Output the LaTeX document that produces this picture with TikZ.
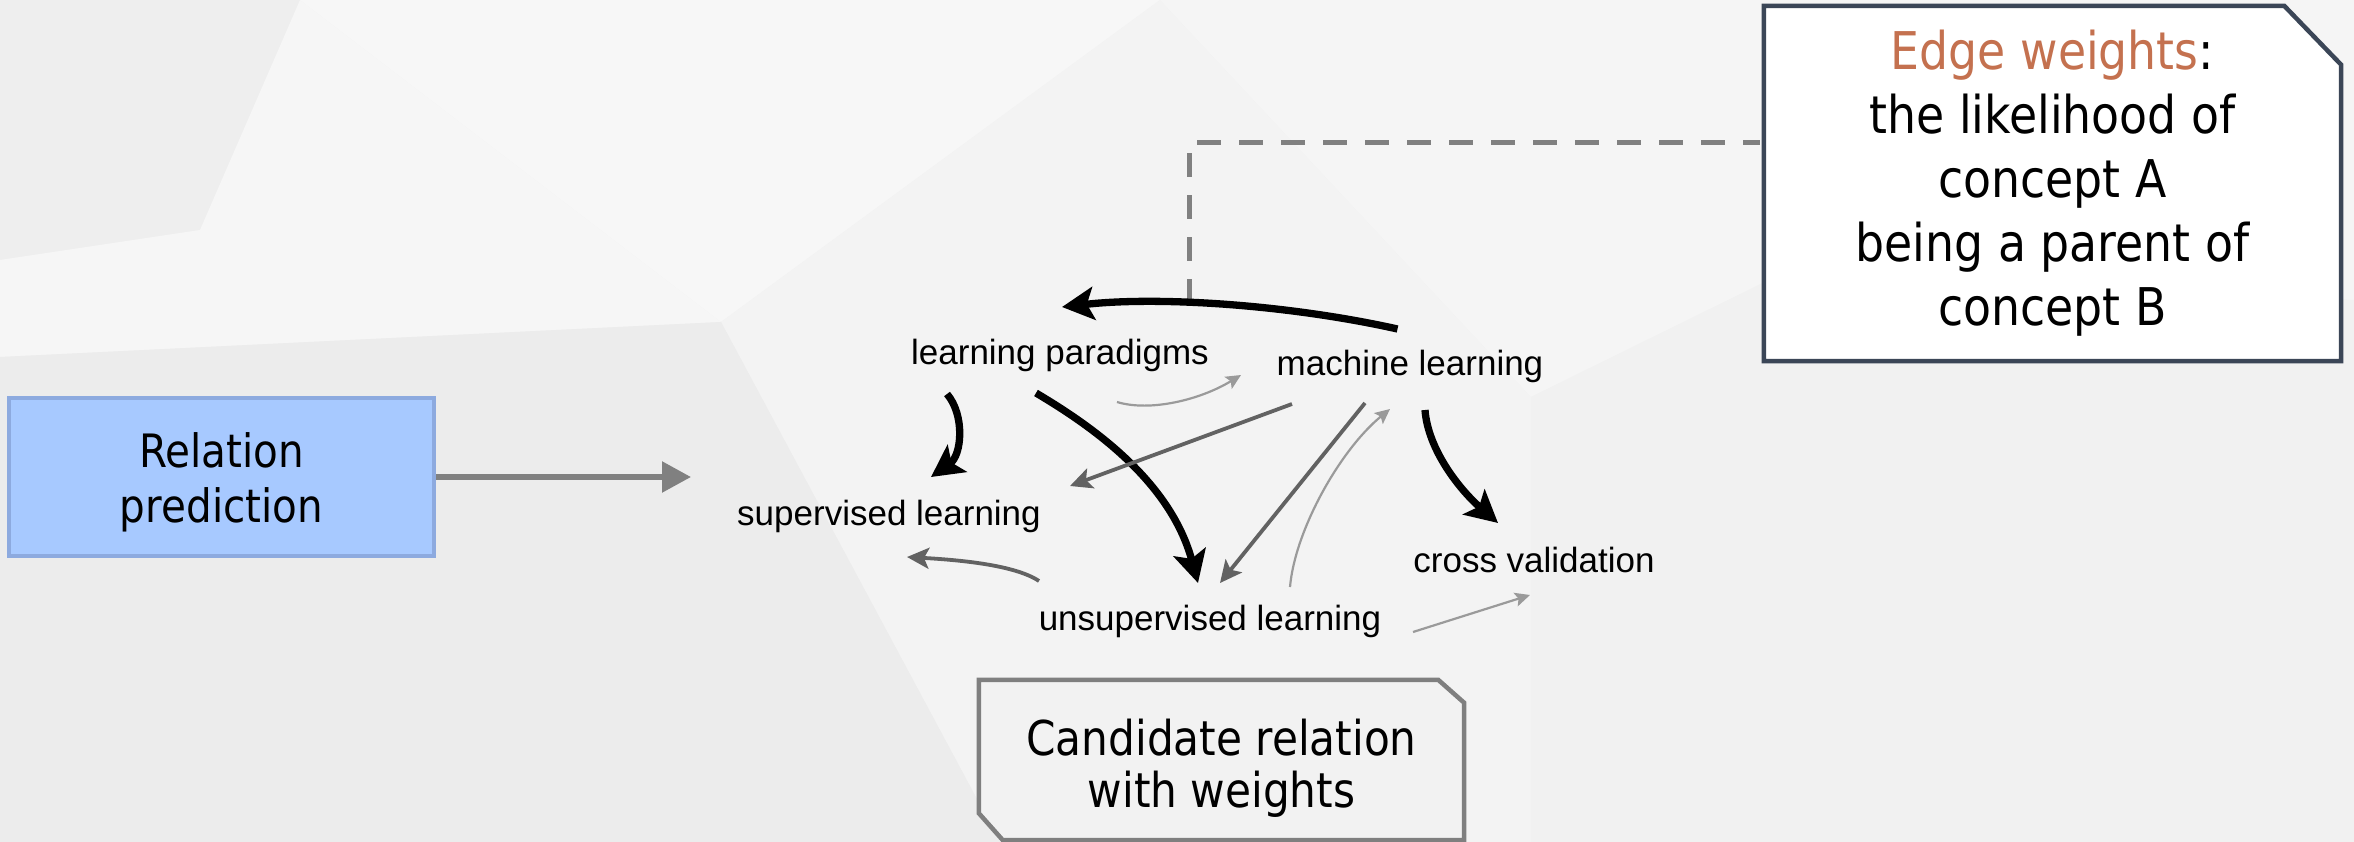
\documentclass[tikz,border=0pt]{standalone}
\usepackage{fontspec}
\newfontfamily\boxfont[FakeStretch=0.88]{DejaVu Sans}
\newfontfamily\graphfont{Liberation Sans}
\usetikzlibrary{arrows.meta,calc,backgrounds}
\definecolor{rpfill}{HTML}{A7C9FF}
\definecolor{rpline}{HTML}{8DAADF}
\definecolor{ewline}{HTML}{3B4657}
\definecolor{edgec}{HTML}{C4714F}
\definecolor{cbfill}{HTML}{F2F2F2}
\definecolor{cbline}{HTML}{7F7F7F}
\definecolor{medgray}{HTML}{626262}
\definecolor{lightgray}{HTML}{9A9A9A}
\definecolor{relgray}{HTML}{808080}
\tikzset{
  glabel/.style={font=\graphfont\fontsize{35}{40}\selectfont, inner sep=0pt, anchor=base},
  thickedge/.style={line width=7.3pt, black, -{Stealth[length=32pt,width=33pt,inset=7pt]}},
  midedge/.style={line width=3.8pt, medgray, -{Stealth[length=22pt,width=21pt,inset=5pt]}},
  thinedge/.style={line width=2.2pt, lightgray, -{Stealth[length=15pt,width=14pt,inset=3pt]}},
  relarrow/.style={line width=5.5pt, relgray, -{Triangle[length=29pt,width=30pt]}},
  dashline/.style={line width=5.5pt, relgray, dash pattern=on 24pt off 18pt},
}
\begin{document}
\begin{tikzpicture}[x=1pt,y=-1pt]
\useasboundingbox (0,0) rectangle (2354,842);
% background low-poly
\begin{scope}[on background layer]
\fill[fill={rgb,255:red,241;green,241;blue,241}] (0,0) rectangle (2354,842);
\fill[fill={rgb,255:red,238;green,238;blue,238}] (0,0) -- (300,0) -- (200,230) -- (0,260) -- cycle;
\fill[fill={rgb,255:red,246;green,246;blue,246}] (0,260) -- (200,230) -- (300,0) -- (721,322) -- (0,357) -- cycle;
\fill[fill={rgb,255:red,247;green,247;blue,247}] (300,0) -- (1160,0) -- (721,322) -- cycle;
\fill[fill={rgb,255:red,243;green,243;blue,243}] (721,322) -- (1160,0) -- (1531,397) -- (1531,842) -- (1000,842) -- cycle;
\fill[fill={rgb,255:red,236;green,236;blue,236}] (0,357) -- (721,322) -- (1000,842) -- (0,842) -- cycle;
\fill[fill={rgb,255:red,245;green,245;blue,245}] (1160,0) -- (2354,0) -- (2354,300) -- (1771,279) -- (1531,397) -- cycle;
\fill[fill={rgb,255:red,241;green,241;blue,241}] (1531,397) -- (1771,279) -- (2354,300) -- (2354,842) -- (1531,842) -- cycle;
\end{scope}

% Relation prediction
\node[draw=rpline, line width=4pt, fill=rpfill, minimum width=425, minimum height=158,
      align=center, font=\boxfont\fontsize{46}{55}\selectfont, inner sep=0pt]
  (rp) at (221.5,477) {\rule{0pt}{46pt}Relation\\prediction};
\coordinate (rpend) at (691,477);
\draw[relarrow] (rp.east) -- (rpend);

% Edge weights box
\node[minimum width=577, minimum height=355, align=center, inner sep=0pt,
      font=\boxfont\fontsize{52}{64}\selectfont]
  (ew) at (2052.5,183.5) {{\color{edgec}Edge weights}:\\the likelihood of\\concept A\\being a parent of\\concept B};
\begin{scope}[on background layer]
\draw[ewline, line width=4.5pt, fill=white, line join=miter]
  (ew.north west) -- ($(ew.north east)+(-57,0)$) -- ($(ew.north east)+(0,59)$)
  -- (ew.south east) -- (ew.south west) -- cycle;
\end{scope}

% dashed connector
\coordinate (dashcorner) at (1189.5,142.5);
\coordinate (dashend) at (1189.5,303);
\draw[dashline, shorten >=4pt] (dashend) -- (dashcorner) -- (dashcorner -| ew.west);

% Candidate box
\node[minimum width=485, minimum height=160, align=center, inner sep=0pt,
      font=\boxfont\fontsize{48}{52}\selectfont]
  (cb) at (1221.5,760) {\rule{0pt}{53pt}Candidate relation\\with weights};
\begin{scope}[on background layer]
\draw[cbline, line width=4.5pt, fill=cbfill]
  (cb.north west) -- ($(cb.north east)+(-26,0)$) -- ($(cb.north east)+(0,23)$)
  -- (cb.south east) -- ($(cb.south west)+(24,0)$) -- ($(cb.south west)+(0,-27)$) -- cycle;
\end{scope}

% graph labels
\node[glabel] (lp) at (1060,365) {learning paradigms};
\node[glabel] (ml) at (1410,375) {machine learning};
\node[glabel] (sl) at (889,525) {supervised learning};
\node[glabel] (cv) at (1534,572) {cross validation};
\node[glabel] (ul) at (1210,630) {unsupervised learning};

% edges
\draw[thickedge] ($(ml.base)+(-12.5,-46)$) .. controls (1290,305) and (1160,296) .. ($(lp.base)+(2,-58)$);
\draw[thickedge] ($(lp.base)+(-113,29)$) .. controls (965,415) and (962,455) .. ($(sl.base)+(42,-48)$);
\draw[thickedge] ($(lp.base)+(-24,28)$) .. controls (1090,425) and (1170,480) .. ($(ul.base)+(-12,-47)$);
\draw[thinedge] ($(lp.base)+(57,37)$) .. controls (1150,412) and (1200,400) .. ($(ml.base)+(-169,0)$);
\draw[midedge] ($(ml.base)+(-118,29)$) -- ($(sl.base)+(181,-39)$);
\draw[midedge] ($(ml.base)+(-45,28)$) -- ($(ul.base)+(10,-47)$);
\draw[thinedge] ($(ul.base)+(80,-43)$) .. controls (1295,530) and (1340,450) .. ($(ml.base)+(-20,34)$);
\draw[thickedge] ($(ml.base)+(15,35)$) .. controls (1428,450) and (1460,490) .. ($(cv.base)+(-36,-49)$);
\draw[midedge] ($(ul.base)+(-171,-49)$) .. controls (1015,565) and (960,560) .. ($(sl.base)+(18,32)$);
\draw[thinedge] ($(ul.base)+(203,2)$) -- ($(cv.base)+(-4,23)$);
\end{tikzpicture}
\end{document}
